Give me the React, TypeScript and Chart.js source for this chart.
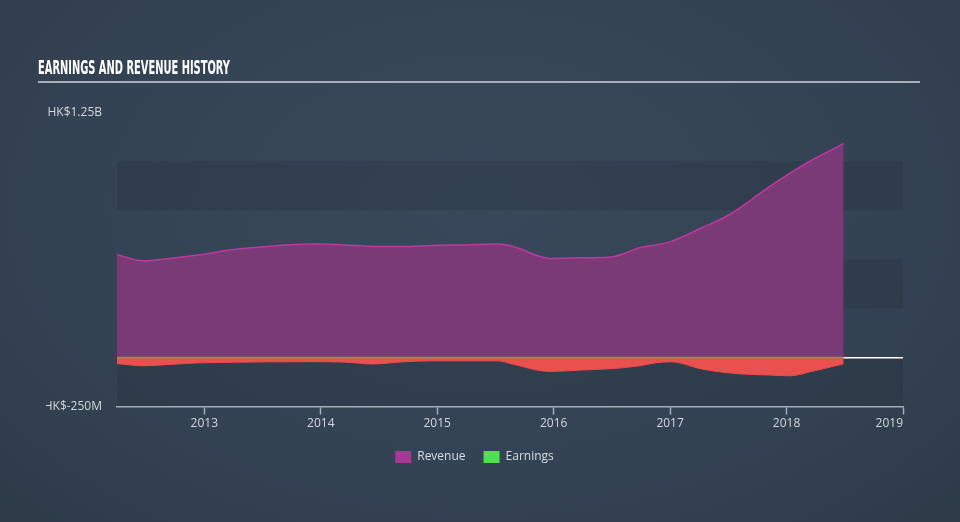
import React, { useEffect, useLayoutEffect, useRef } from 'react';
import { Chart, registerables } from 'chart.js';

Chart.register(...registerables);

// Decimal-year positions of the reported points
const dates = [
  2012.25, 2012.48, 2012.7, 2012.96, 2013.25, 2013.54, 2013.93, 2014.2, 2014.45,
  2014.7, 2014.95, 2015.25, 2015.52, 2015.65, 2015.97, 2016.23, 2016.51, 2016.74,
  2016.88, 2017.01, 2017.27, 2017.5, 2017.7, 2017.85, 2018.03, 2018.2, 2018.49,
];
// HK$ millions
const revenue = [
  524, 493, 505, 524, 550, 566, 578, 574, 566,
  566, 571, 574, 578, 566, 505, 508, 514, 560,
  574, 592, 660, 725, 805, 870, 940, 1000, 1090,
];
const earnings = [
  -31, -42, -35, -27, -24, -22, -21, -23, -33,
  -22, -17, -17, -17, -34, -71, -64, -56, -42,
  -26, -22, -58, -78, -86, -89, -93, -73, -32,
];
const yearTicks = [2013, 2014, 2015, 2016, 2017, 2018, 2019];
const xMin = 2012.25;
const xMax = 2019;
const yTicks = [-250, 0, 250, 500, 750, 1000, 1250];
const yMin = -250;
const yMax = 1250;
const legendNames = ['Revenue', 'Earnings'];
const legendColors = ['#aa3796', '#4fe24f'];

const FONT = '"Open Sans", "DejaVu Sans", sans-serif';

function fmtMoney(v: number): string {
  if (Math.abs(v) >= 1000) return `HK$${v / 1000}B`;
  return `HK$${v}M`;
}

const bandsPlugin = {
  id: 'bands',
  beforeDraw(chart: any) {
    const { ctx, chartArea, scales } = chart;
    const y = scales.y;
    ctx.save();
    ctx.fillStyle = 'rgba(0,0,0,0.09)';
    for (let i = 0; i < yTicks.length - 1; i += 2) {
      const top = y.getPixelForValue(yTicks[i + 1]);
      const bottom = y.getPixelForValue(yTicks[i]);
      ctx.fillRect(chartArea.left, top, chartArea.right - chartArea.left, bottom - top);
    }
    ctx.restore();
  },
};

const zeroLinePlugin = {
  id: 'zeroLine',
  afterDatasetsDraw(chart: any) {
    const { ctx, scales } = chart;
    const x0 = scales.x.getPixelForValue(dates[0]);
    const x1 = scales.x.getPixelForValue(dates[dates.length - 1]);
    const y0 = scales.y.getPixelForValue(0);
    ctx.save();
    ctx.strokeStyle = '#63a94f';
    ctx.lineWidth = 1.5;
    ctx.beginPath();
    ctx.moveTo(x0, y0);
    ctx.lineTo(x1, y0);
    ctx.stroke();
    ctx.restore();
  },
};

export default function App() {
  const canvasRef = useRef<HTMLCanvasElement>(null);
  const titleRef = useRef<HTMLSpanElement>(null);

  useLayoutEffect(() => {
    const el = titleRef.current;
    if (el) {
      const w = el.getBoundingClientRect().width;
      if (w > 0) el.style.transform = `scaleX(${192 / w})`;
    }
  }, []);

  useEffect(() => {
    if (!canvasRef.current) return;
    const chart = new Chart(canvasRef.current, {
      type: 'line',
      data: {
        datasets: [
          {
            label: 'Revenue',
            data: dates.map((d, i) => ({ x: d, y: revenue[i] })),
            fill: 'origin',
            backgroundColor: '#7a3a75',
            borderColor: '#bd389f',
            borderWidth: 1.5,
            pointRadius: 0,
            cubicInterpolationMode: 'monotone',
          },
          {
            label: 'Earnings',
            data: dates.map((d, i) => ({ x: d, y: earnings[i] })),
            fill: 'origin',
            backgroundColor: '#ea5050',
            borderColor: '#f24a4a',
            borderWidth: 1,
            pointRadius: 0,
            cubicInterpolationMode: 'monotone',
          },
        ],
      },
      options: {
        animation: false,
        responsive: true,
        maintainAspectRatio: false,
        layout: { padding: { left: 0, right: 17, top: 11, bottom: 4 } },
        events: [],
        scales: {
          x: {
            type: 'linear',
            min: xMin,
            max: xMax,
            afterBuildTicks: (s: any) => {
              s.ticks = [{ value: xMin }, ...yearTicks.map((v) => ({ value: v }))];
            },
            ticks: {
              callback: (v: any) => (yearTicks.includes(v) ? String(v) : ''),
              align: 'inner',
              color: '#d2d7dd',
              font: { family: FONT, size: 12 },
              padding: 2,
              maxRotation: 0,
              autoSkip: false,
            },
            grid: {
              drawOnChartArea: false,
              tickLength: 8,
              tickWidth: 1.5,
              tickColor: (ctx: any) => (ctx.index === 0 ? 'rgba(0,0,0,0)' : '#a3adb9'),
            },
            border: { color: '#a3adb9', width: 1.5 },
          },
          y: {
            min: yMin,
            max: yMax,
            afterBuildTicks: (s: any) => {
              s.ticks = yTicks.map((v) => ({ value: v }));
            },
            afterFit: (s: any) => {
              s.width = 71;
            },
            ticks: {
              callback: (v: any) => (v === yMax || v === yMin ? fmtMoney(v) : ''),
              color: '#d2d7dd',
              font: { family: FONT, size: 12 },
              padding: 15,
              autoSkip: false,
            },
            grid: {
              drawTicks: false,
              color: (ctx: any) => (ctx.tick && ctx.tick.value === 0 ? '#ffffff' : 'rgba(0,0,0,0)'),
              lineWidth: 1.5,
            },
            border: { display: false },
          },
        },
        plugins: {
          tooltip: { enabled: false },
          legend: {
            position: 'bottom',
            onClick: () => {},
            labels: {
              boxWidth: 16,
              boxHeight: 12,
              padding: 18,
              color: '#d8dce1',
              font: { family: FONT, size: 12 },
              generateLabels: () =>
                legendNames.map((name, i) => ({
                  text: name,
                  fillStyle: legendColors[i],
                  strokeStyle: legendColors[i],
                  lineWidth: 0,
                  hidden: false,
                  datasetIndex: i,
                  fontColor: '#d8dce1',
                })),
            },
          },
        },
      },
      plugins: [bandsPlugin, zeroLinePlugin],
    } as any);
    return () => chart.destroy();
  }, []);

  return (
    <div
      style={{
        position: 'fixed',
        inset: 0,
        overflow: 'hidden',
        background: 'radial-gradient(ellipse at 50% 40%, #38485a 0%, #344354 60%, #2e3a48 100%)',
      }}
    >
      <span
        ref={titleRef}
        style={{
          position: 'absolute',
          left: 38,
          top: 58,
          font: 'bold 19px "Liberation Sans Narrow", "DejaVu Sans Condensed", sans-serif',
          lineHeight: '19px',
          color: '#ffffff',
          whiteSpace: 'nowrap',
          display: 'inline-block',
          transformOrigin: 'left top',
        }}
      >
        EARNINGS AND REVENUE HISTORY
      </span>
      <div style={{ position: 'absolute', left: 38, top: 81, width: 882, height: 2, background: '#a7afb8' }} />
      <div style={{ position: 'absolute', left: 46, top: 90, width: 874, height: 387 }}>
        <canvas ref={canvasRef} />
      </div>
    </div>
  );
}
